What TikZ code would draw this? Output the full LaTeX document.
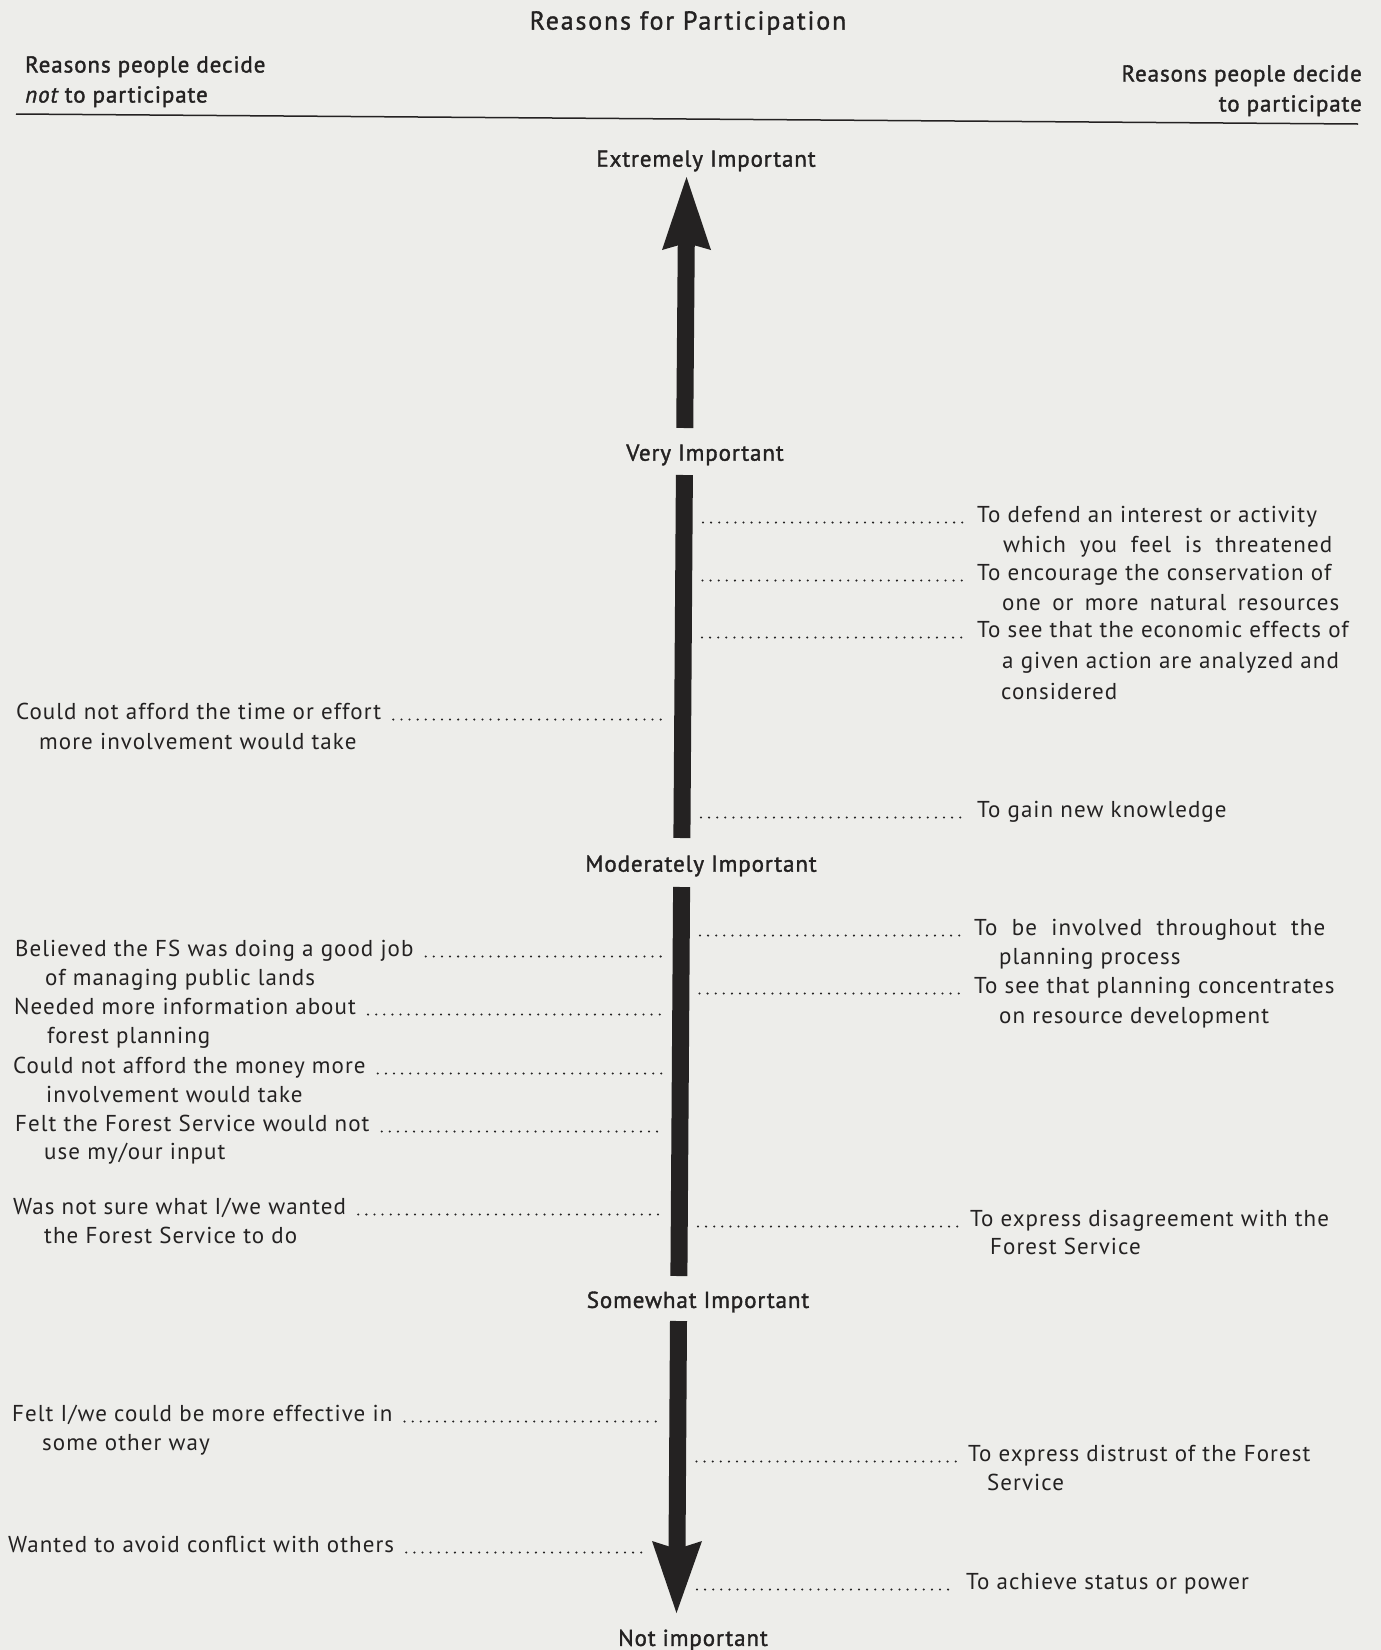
\documentclass[tikz,border=0pt]{standalone}
\usepackage{fontspec}
\setmainfont[LetterSpace=4.6]{PT Sans}
\newfontfamily\medfont[FakeBold=1.5,LetterSpace=4]{PT Sans}
\newfontfamily\ttlfont[FakeBold=1.2,LetterSpace=7]{PT Sans}
\usetikzlibrary{arrows.meta}
\definecolor{paper}{RGB}{237,237,234}
\definecolor{ink}{RGB}{36,34,34}
\begin{document}
\begin{tikzpicture}[x=1pt,y=-1pt,
  txt/.style={inner sep=0pt, text=ink, font=\fontsize{23}{27}\selectfont},
  itemL/.style={txt, anchor=mid west},
  itemR/.style={txt, anchor=mid west},
  level/.style={inner sep=0pt, text=ink, font=\medfont\fontsize{23}{27}\selectfont},
  head/.style={inner sep=0pt, text=ink, font=\medfont\fontsize{23}{27}\selectfont},
  titlestyle/.style={inner sep=0pt, text=ink, font=\ttlfont\fontsize{26}{30}\selectfont},
  leader/.style={draw=ink, line width=2.3pt, line cap=round, dash pattern=on 0pt off 8.1pt},
  shaft/.style={draw=ink, line width=17pt}]
\fill[paper] (0,0) rectangle (1381,1650);
\useasboundingbox (0,0) rectangle (1381,1650);

% title and headers
\node[titlestyle] (title) at (688,23) {Reasons for Participation};
\node[head, anchor=mid west] (hl1) at (25,70) {Reasons people decide};
\node[head, anchor=mid west] (hl2) at (25,100) {\itshape not\upshape{} to participate};
\node[head, anchor=mid east] (hr1) at (1362,79) {Reasons people decide};
\node[head, anchor=mid east] (hr2) at (1362,109) {to participate};
\coordinate (ruleL) at (16,114);
\coordinate (ruleR) at (1358,124);
\draw[ink, line width=1.5pt] (ruleL) -- (ruleR);

% level labels
\node[level] (ext) at (706,161) {Extremely Important};
\node[level] (very) at (705,455) {Very Important};
\node[level] (mod) at (701,866) {Moderately Important};
\node[level] (some) at (698,1302) {Somewhat Important};
\node[level] (notimp) at (693,1640) {Not important};

% shaft
\coordinate (a0) at (686.5,177);
\coordinate (ah) at (686.3,240);
\coordinate (a1) at (684.75,428);
\coordinate (b0) at (684.4,475);
\coordinate (b1) at (681.9,838);
\coordinate (c0) at (681.6,887);
\coordinate (c1) at (678.9,1276);
\coordinate (d0) at (678.5,1321);
\coordinate (dh) at (677,1552);
\coordinate (d1) at (676.5,1613);
\draw[shaft] (a1) -- (ah);
\fill[ink] (a0) -- (711,250) -- (686.3,243) -- (662,250) -- cycle;
\draw[shaft] (b0) -- (b1);
\draw[shaft] (c0) -- (c1);
\draw[shaft] (d0) -- (dh);
\fill[ink] (d1) -- (702,1541) -- (677,1549) -- (652,1541) -- cycle;

% left items
\node[itemL] (L1) at (16,717) {Could not afford the time or effort};
\node[itemL] (L1b) at (39,747) {more involvement would take};
\node[itemL] (L2) at (15,954) {Believed the FS was doing a good job};
\node[itemL] (L2b) at (45,983) {of managing public lands};
\node[itemL] (L3) at (14,1012) {Needed more information about};
\node[itemL] (L3b) at (47,1041) {forest planning};
\node[itemL] (L4) at (13,1071) {Could not afford the money more};
\node[itemL] (L4b) at (46,1100) {involvement would take};
\node[itemL] (L5) at (15,1129) {Felt the Forest Service would not};
\node[itemL] (L5b) at (44,1157) {use my/our input};
\node[itemL] (L6) at (13,1212) {Was not sure what I/we wanted};
\node[itemL] (L6b) at (44,1241) {the Forest Service to do};
\node[itemL] (L7) at (12,1419) {Felt I/we could be more effective in};
\node[itemL] (L7b) at (42,1448) {some other way};
\node[itemL] (L8) at (8,1550) {Wanted to avoid conflict with others};

\coordinate (le1) at (666,0);
\coordinate (le2) at (664.6,0);
\coordinate (le3) at (664,0);
\coordinate (le4) at (663.8,0);
\coordinate (le5) at (663.4,0);
\coordinate (le6) at (662.8,0);
\coordinate (le7) at (661.4,0);
\coordinate (le8) at (645,0);
\foreach \i in {1,...,8}{
  \draw[leader] ([xshift=12pt]L\i.base east) -- (L\i.base -| le\i);
}

% right items
\node[itemR] (R1) at (977,520) {To defend an interest or activity};
\node[itemR] (R1b) at (1003,550) {\makebox[329pt][s]{which you feel is threatened}};
\node[itemR] (R2) at (977,578) {To encourage the conservation of};
\node[itemR] (R2b) at (1002,608) {\makebox[337pt][s]{one or more natural resources}};
\node[itemR] (R3) at (977,635) {To see that the economic effects of};
\node[itemR] (R3b) at (1002,666) {a given action are analyzed and};
\node[itemR] (R3c) at (1001,697) {considered};
\node[itemR] (R4) at (977,815) {To gain new knowledge};
\node[itemR] (R5) at (974,933) {\makebox[351pt][s]{To be involved throughout the}};
\node[itemR] (R5b) at (999,962) {planning process};
\node[itemR] (R6) at (974,991) {To see that planning concentrates};
\node[itemR] (R6b) at (999,1021) {on resource development};
\node[itemR] (R7) at (970,1224) {To express disagreement with the};
\node[itemR] (R7b) at (990,1252) {Forest Service};
\node[itemR] (R8) at (968,1459) {To express distrust of the Forest};
\node[itemR] (R8b) at (987,1488) {Service};
\node[itemR] (R9) at (966,1587) {To achieve status or power};

\coordinate (rs1) at (703,0);
\coordinate (rs2) at (702.5,0);
\coordinate (rs3) at (702,0);
\coordinate (rs4) at (701,0);
\coordinate (rs5) at (700,0);
\coordinate (rs6) at (699.5,0);
\coordinate (rs7) at (698,0);
\coordinate (rs8) at (696.5,0);
\coordinate (rs9) at (697,0);
\foreach \i in {1,...,9}{
  \draw[leader] (R\i.base -| rs\i) -- ([xshift=-10pt]R\i.base west);
}
\end{tikzpicture}
\end{document}
